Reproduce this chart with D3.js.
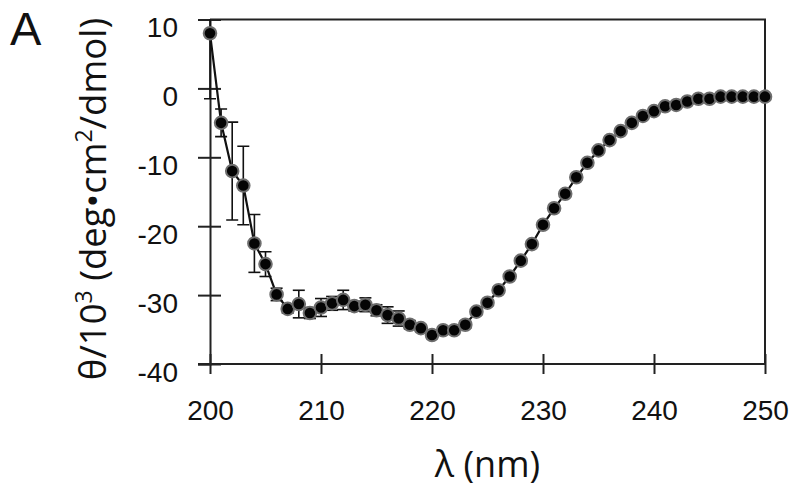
<!DOCTYPE html>
<html>
<head>
<meta charset="utf-8">
<script src="https://cdn.jsdelivr.net/npm/d3@7"></script>
<style>
  body { margin: 0; background: #fff; }
  svg { display: block; font-family: "Open Sans", "Noto Sans", sans-serif; }
  .axis text { font-size: 28px; fill: #111; }
</style>
</head>
<body>
<svg width="800" height="494"></svg>
<script>
// CD spectrum, wavelength in nm
const wavelength = [200, 201, 202, 203, 204, 205, 206, 207, 208, 209,
  210, 211, 212, 213, 214, 215, 216, 217, 218, 219,
  220, 221, 222, 223, 224, 225, 226, 227, 228, 229,
  230, 231, 232, 233, 234, 235, 236, 237, 238, 239,
  240, 241, 242, 243, 244, 245, 246, 247, 248, 249, 250];
// mean residue ellipticity / 10^3
const theta = [8.0, -5.0, -12.0, -14.1, -22.5, -25.5, -29.9, -32.0, -31.3, -32.6,
  -31.8, -31.2, -30.7, -31.6, -31.4, -32.2, -32.9, -33.4, -34.3, -34.8,
  -35.8, -35.1, -35.1, -34.3, -32.4, -31.1, -29.3, -27.3, -25.0, -22.6,
  -19.8, -17.4, -15.3, -12.9, -10.8, -9.0, -7.5, -6.2, -5.0, -4.0,
  -3.3, -2.6, -2.4, -1.9, -1.5, -1.5, -1.2, -1.2, -1.2, -1.2, -1.2];
// error bars (+/-)
const thetaErr = [9.5, 2.0, 7.1, 5.7, 4.2, 1.8, 0.9, 0.6, 2.0, 0.8,
  1.3, 1.0, 1.4, 0.7, 1.0, 0.8, 1.2, 1.1, 0.6, 0.5,
  0.5, 0.5, 0.5, 0.5, 0.4, 0.4, 0.4, 0.4, 0.4, 0.4,
  0.4, 0.4, 0.4, 0.4, 0.4, 0.3, 0.3, 0.3, 0.3, 0.3,
  0.3, 0.3, 0.3, 0.3, 0.3, 0.3, 0.3, 0.3, 0.3, 0.3, 0.3];
const xTicks = [200, 210, 220, 230, 240, 250];
const yTicks = [10, 0, -10, -20, -30, -40];

const data = wavelength.map((w, i) => ({ w: w, v: theta[i], e: thetaErr[i] }));

const svg = d3.select("svg");
const m = { left: 210, right: 765, top: 19.5, bottom: 364 };

const x = d3.scaleLinear().domain([200, 250]).range([m.left, m.right]);
const y = d3.scaleLinear().domain([-40, 10]).range([m.bottom, m.top]);

svg.append("defs").append("clipPath").attr("id", "plot")
  .append("rect")
    .attr("x", m.left - 8).attr("y", m.top)
    .attr("width", m.right - m.left + 16).attr("height", m.bottom - m.top);

// frame (top and right)
svg.append("path")
  .attr("d", `M${m.left},${m.top}H${m.right}V${m.bottom}`)
  .attr("fill", "none").attr("stroke", "#222").attr("stroke-width", 2);

// y axis, ticks crossing the line, plain hyphen for negatives
const yAxis = svg.append("g").attr("class", "axis")
  .attr("transform", `translate(${m.left},0)`)
  .call(d3.axisLeft(y).tickValues(yTicks).tickFormat(d => String(d)).tickSize(12).tickPadding(20));
yAxis.select(".domain").attr("stroke", "#222").attr("stroke-width", 2);
yAxis.selectAll(".tick line").attr("x2", 11).attr("x1", -12).attr("stroke", "#222").attr("stroke-width", 2);
yAxis.selectAll(".tick text").attr("dy", "0.62em");

// x axis
const xAxis = svg.append("g").attr("class", "axis")
  .attr("transform", `translate(0,${m.bottom})`)
  .call(d3.axisBottom(x).tickValues(xTicks).tickFormat(d => String(d)).tickSize(10).tickPadding(26));
xAxis.select(".domain").attr("d", `M${m.left - 12},0H${m.right}`).attr("stroke", "#222").attr("stroke-width", 2);
xAxis.selectAll(".tick line").attr("y1", -10).attr("y2", 10).attr("stroke", "#222").attr("stroke-width", 2);

const plot = svg.append("g").attr("clip-path", "url(#plot)");

// error bars
const bars = plot.selectAll(".err").data(data).enter().append("g").attr("class", "err")
  .attr("stroke", "#111").attr("stroke-width", 1.6);
bars.append("line")
  .attr("x1", d => x(d.w)).attr("x2", d => x(d.w))
  .attr("y1", d => y(d.v - d.e)).attr("y2", d => y(d.v + d.e));
bars.append("line")
  .attr("x1", d => x(d.w) - 6).attr("x2", d => x(d.w) + 6)
  .attr("y1", d => y(d.v - d.e)).attr("y2", d => y(d.v - d.e));
bars.append("line")
  .attr("x1", d => x(d.w) - 6).attr("x2", d => x(d.w) + 6)
  .attr("y1", d => y(d.v + d.e)).attr("y2", d => y(d.v + d.e));

// line
plot.append("path")
  .datum(data)
  .attr("fill", "none").attr("stroke", "#111").attr("stroke-width", 2.2)
  .attr("d", d3.line().x(d => x(d.w)).y(d => y(d.v)));

// markers
plot.selectAll(".dot").data(data).enter().append("circle")
  .attr("class", "dot")
  .attr("cx", d => x(d.w)).attr("cy", d => y(d.v)).attr("r", 6.3)
  .attr("fill", "#050505").attr("stroke", "#6e6e6e").attr("stroke-width", 2);

// axis titles
svg.append("text")
  .attr("x", (m.left + m.right) / 2).attr("y", 477)
  .attr("text-anchor", "middle").attr("font-size", 36).attr("fill", "#111")
  .text("λ (nm)");

const yt = svg.append("text")
  .attr("transform", "translate(106,199) rotate(-90)")
  .attr("text-anchor", "middle").attr("font-size", 36.5).attr("fill", "#111");
yt.append("tspan").text("θ/10");
yt.append("tspan").attr("font-size", 23).attr("dy", -14).text("3");
yt.append("tspan").attr("dy", 14).text(" (deg•cm");
yt.append("tspan").attr("font-size", 23).attr("dy", -14).text("2");
yt.append("tspan").attr("dy", 14).text("/dmol)");

// panel letter
svg.append("text")
  .attr("x", 10).attr("y", 45)
  .attr("font-family", "'Liberation Sans', sans-serif")
  .attr("font-size", 47).attr("fill", "#111")
  .text("A");
</script>
</body>
</html>
